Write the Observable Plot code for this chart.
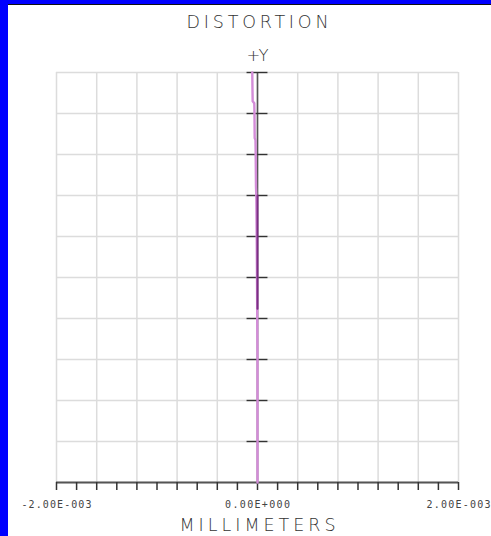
<!DOCTYPE html>
<html>
<head>
<meta charset="utf-8">
<script src="https://cdn.jsdelivr.net/npm/d3@7"></script>
<script src="https://cdn.jsdelivr.net/npm/@observablehq/plot@0.6"></script>
<style>
  html, body { margin: 0; padding: 0; background: #ffffff; }
  #wrap { position: relative; width: 491px; height: 536px; overflow: hidden; }
  #wrap svg { position: absolute; left: 0; top: 0; }
  .bl { position: absolute; left: 0; top: 0; width: 8px; height: 536px; background: #0000ff; }
  .bt { position: absolute; left: 0; top: 0; width: 491px; height: 4px; background: #0000ff; }
  .bk { position: absolute; left: 8px; top: 4px; width: 483px; height: 1px; background: #111; }
</style>
</head>
<body>
<div id="wrap"><div class="bl"></div><div class="bt"></div><div class="bk"></div></div>
<script>
// ---- data ----
const title = "DISTORTION";
const xTitle = "MILLIMETERS";
const yLabel = "+Y";
const xDomain = [-0.002, 0.002];
const xLabelTicks = [-0.002, 0, 0.002];
const xGrid = [-0.002, -0.0016, -0.0012, -0.0008, -0.0004, 0, 0.0004, 0.0008, 0.0012, 0.0016, 0.002];
const xMinorTicks = [-0.002, -0.0018, -0.0016, -0.0014, -0.0012, -0.001, -0.0008, -0.0006, -0.0004, -0.0002, 0,
  0.0002, 0.0004, 0.0006, 0.0008, 0.001, 0.0012, 0.0014, 0.0016, 0.0018, 0.002];
const fieldGrid = [0, 0.1, 0.2, 0.3, 0.4, 0.5, 0.6, 0.7, 0.8, 0.9, 1.0];
const centerTicks = [0.1, 0.2, 0.3, 0.4, 0.5, 0.6, 0.7, 0.8, 0.9, 1.0];
const centerTickHalf = 0.000104;

// light (pink) curve: field vs distortion (mm)
const pinkField = [0, 0.1, 0.2, 0.3, 0.42, 0.5, 0.6, 0.7, 0.72, 0.8, 0.835, 0.84, 0.9, 0.925, 0.93, 0.96, 1.0];
const pinkDist  = [0, 0, 0, 0, -0.000003, -0.000005, -0.000008, -0.000012, -0.000015, -0.000018, -0.000020, -0.000028, -0.000030, -0.000032, -0.000048, -0.000050, -0.000052];
// dark purple curve
const darkField = [0.424, 0.5, 0.6, 0.7];
const darkDist  = [0, 0, 0, 0];

const pink = pinkField.map((f, i) => ({f, d: pinkDist[i]}));
const dark = darkField.map((f, i) => ({f, d: darkDist[i]}));

function fmtE(v) {
  const s = v.toExponential(2);
  const [m, e] = s.split("e");
  const sign = e[0] === "-" ? "-" : "+";
  const digits = e.replace(/[+-]/, "").padStart(3, "0");
  return m + "E" + sign + digits;
}

const mono = "DejaVu Sans Mono";
const thin = "DejaVu Sans";
const txt = "#333333";

const chart = Plot.plot({
  width: 491,
  height: 536,
  marginLeft: 56,
  marginRight: 33,
  marginTop: 72,
  marginBottom: 54,
  style: {background: "transparent", fontFamily: mono},
  x: {domain: xDomain, axis: null},
  y: {domain: [0, 1], axis: null},
  marks: [
    Plot.ruleX(xGrid, {stroke: "#dcdcdc", strokeWidth: 1.5}),
    Plot.ruleY(fieldGrid, {stroke: "#dcdcdc", strokeWidth: 1.5}),
    // center vertical axis
    Plot.ruleX([0], {y1: 0, y2: 1, stroke: "#555", strokeWidth: 1.6}),
    // center horizontal tick marks
    Plot.ruleY(centerTicks, {x1: -centerTickHalf, x2: centerTickHalf, stroke: "#333", strokeWidth: 1.4}),
    // bottom axis line
    Plot.ruleY([0], {x1: xDomain[0], x2: xDomain[1], stroke: "#555", strokeWidth: 2}),
    Plot.axisX({ticks: xMinorTicks, tickSize: 8, tickFormat: () => "", stroke: "#333", strokeWidth: 1.5, label: null}),
    // curves
    Plot.line(pink, {x: "d", y: "f", stroke: "#d38cd8", strokeWidth: 2.4, curve: "linear"}),
    Plot.line(dark, {x: "d", y: "f", stroke: "#7d2e85", strokeWidth: 2}),
    // tick labels
    Plot.text(xLabelTicks, {x: d => d, frameAnchor: "bottom", dy: 22.5, text: d => fmtE(d),
      fontSize: 10, fill: "#444", fontFamily: mono, lineAnchor: "middle"}),
    // titles
    Plot.text([title], {x: 0, frameAnchor: "top", dy: -50.5, text: d => d, fontSize: 17.5, fill: txt,
      fontFamily: thin, fontWeight: 200, lineAnchor: "middle"}),
    Plot.text([yLabel], {x: 0, frameAnchor: "top", dy: -16.5, text: d => d, fontSize: 16.5, fill: txt,
      fontFamily: thin, fontWeight: 200, lineAnchor: "middle"}),
    Plot.text([xTitle], {x: 0, frameAnchor: "bottom", dy: 42.5, text: d => d, fontSize: 17.5, fill: txt,
      fontFamily: thin, fontWeight: 200, lineAnchor: "middle"})
  ]
});
const wrap = document.getElementById("wrap");
wrap.insertBefore(chart, wrap.firstChild);

// stretch spacing of texts to the widths seen in the reference
const widths = {"DISTORTION": 142, "MILLIMETERS": 156, "+Y": 22, "-2.00E-003": 70, "0.00E+000": 65, "2.00E-003": 64};
chart.querySelectorAll("text").forEach(t => {
  const w = widths[t.textContent];
  if (w) { t.setAttribute("textLength", w); t.setAttribute("lengthAdjust", "spacing"); }
});
</script>
</body>
</html>
